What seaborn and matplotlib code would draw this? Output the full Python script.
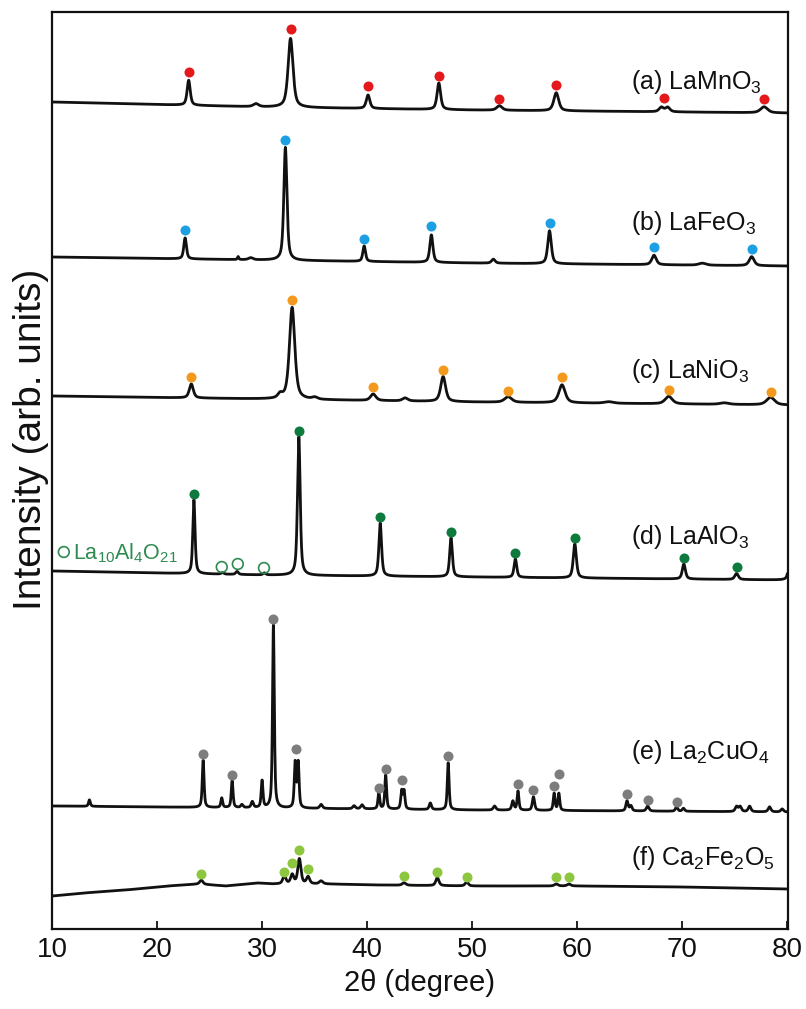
import numpy as np
import pandas as pd
import matplotlib
matplotlib.use("Agg")
import matplotlib.pyplot as plt
import seaborn as sns

# ---------------- data (2theta in degrees, intensity in arb. units) ----------------
two_theta_range = [10.0, 80.0]

# (a) LaMnO3
a_base_x = [10, 30, 50, 80]
a_base_y = [827, 822, 819, 816]
a_pos = [22.99, 29.4, 32.69, 40.07, 46.81, 52.58, 57.99, 68.0, 68.6, 77.78]
a_height = [25, 3, 69, 13.5, 26.5, 4.5, 18, 4.5, 4.5, 6]
a_width = [0.35, 0.6, 0.55, 0.4, 0.4, 0.6, 0.55, 0.5, 0.5, 0.8]
a_dot_x = [22.99, 32.69, 40.07, 46.81, 52.58, 57.99, 68.28, 77.78]
a_dot_y = [857, 900, 843, 853, 830, 844, 831, 830]

# (b) LaFeO3
b_base_x = [10, 30, 50, 80]
b_base_y = [672, 669, 666, 663]
b_pos = [22.65, 27.7, 28.9, 32.2, 39.7, 46.1, 52.0, 57.35, 67.3, 71.9, 76.6]
b_height = [21, 3, 2, 113, 15.5, 27.5, 4, 33, 9.5, 2, 9]
b_width = [0.3, 0.15, 0.5, 0.35, 0.3, 0.35, 0.4, 0.4, 0.5, 0.8, 0.55]
b_dot_x = [22.65, 32.2, 39.7, 46.1, 57.35, 67.3, 76.6]
b_dot_y = [699, 789, 690, 703, 706, 682, 680]

# (c) LaNiO3
c_base_x = [10, 30, 50, 80]
c_base_y = [533, 530, 527, 524]
c_pos = [23.24, 31.7, 32.84, 35.0, 40.56, 43.6, 47.22, 53.41, 58.54, 63.0, 68.7, 74.0, 78.4]
c_height = [14, 4, 92, 2, 6.5, 3, 25, 5.5, 18, 1.5, 7.5, 1.5, 7.5]
c_width = [0.45, 0.5, 0.6, 0.6, 0.6, 0.6, 0.55, 0.8, 0.7, 1.0, 0.8, 1.0, 0.9]
c_dot_x = [23.24, 32.84, 40.56, 47.22, 53.41, 58.54, 68.7, 78.4]
c_dot_y = [552, 629, 542, 559, 538, 552, 539, 537]

# (d) LaAlO3 (+ La10Al4O21 impurity)
d_base_x = [10, 30, 50, 80]
d_base_y = [358, 354, 352, 349]
d_pos = [23.49, 26.2, 27.6, 30.2, 33.48, 41.23, 47.97, 54.1, 59.76, 70.14, 75.16, 80.25]
d_height = [74, 1.5, 3, 2, 139, 53, 39, 18.5, 34, 15, 6, 22]
d_width = [0.25, 0.3, 0.3, 0.3, 0.3, 0.3, 0.3, 0.3, 0.35, 0.35, 0.4, 0.35]
d_dot_x = [23.49, 33.48, 41.23, 47.97, 54.1, 59.76, 70.14, 75.16]
d_dot_y = [435, 498, 412, 397, 376, 391, 371, 362]
d_imp_x = [26.14, 27.67, 30.16]
d_imp_y = [362, 365, 361]

# (e) La2CuO4
e_base_x = [10, 30, 50, 80]
e_base_y = [123, 121, 119, 117]
e_pos = [13.54, 24.37, 26.14, 27.13, 28.06, 29.05, 29.98, 31.06, 33.13, 33.42, 35.6,
         38.74, 39.5, 41.1, 41.75, 43.27, 43.5, 46.0, 47.7, 52.12, 53.86, 54.35,
         55.82, 57.79, 58.24, 64.73, 65.1, 66.7, 69.45, 70.1, 75.16, 75.5, 76.4,
         78.3, 79.5]
e_height = [6.5, 47, 9.5, 27, 3, 6, 27, 183, 45, 45, 4,
            3, 4, 16.5, 34, 18, 18, 6.5, 47, 4, 9, 19,
            13.5, 17, 17, 10, 5, 5, 4.5, 3, 5, 5, 5.5,
            5, 3]
e_width = [0.2, 0.2, 0.2, 0.2, 0.25, 0.25, 0.2, 0.2, 0.2, 0.2, 0.3,
           0.3, 0.3, 0.2, 0.2, 0.2, 0.2, 0.25, 0.2, 0.3, 0.25, 0.2,
           0.25, 0.2, 0.2, 0.25, 0.25, 0.3, 0.25, 0.25, 0.3, 0.3, 0.3,
           0.3, 0.3]
e_dot_x = [24.37, 27.13, 31.06, 33.2, 41.1, 41.8, 43.3, 47.7, 54.35, 55.82, 57.75,
           58.3, 64.73, 66.7, 69.45]
e_dot_y = [175, 154, 310, 180, 141, 160, 149, 173, 145, 139, 143, 155, 135, 129, 127]

# (f) Ca2Fe2O5
f_base_x = [10, 13, 17, 21, 24, 26.5, 29.5, 31, 36, 41, 50, 60, 70, 80]
f_base_y = [33, 36, 39, 43, 45, 43, 46, 45, 45, 44, 43, 43, 42, 40]
f_pos = [24.2, 32.1, 32.85, 33.53, 34.36, 35.6, 43.5, 46.67, 49.47, 57.99, 59.2]
f_height = [4, 8, 9, 25, 7, 3, 2.5, 8, 4, 2, 2]
f_width = [0.35, 0.35, 0.35, 0.35, 0.35, 0.4, 0.4, 0.35, 0.35, 0.4, 0.4]
f_dot_x = [24.2, 32.1, 32.85, 33.53, 34.36, 43.5, 46.67, 49.47, 57.99, 59.2]
f_dot_y = [55, 57, 66, 79, 60, 53, 57, 52, 52, 52]

sample_labels = ["(a) LaMnO$_3$", "(b) LaFeO$_3$", "(c) LaNiO$_3$",
                 "(d) LaAlO$_3$", "(e) La$_2$CuO$_4$", "(f) Ca$_2$Fe$_2$O$_5$"]
label_y = [840, 699, 551, 385, 170, 64]
label_x = 65.1
impurity_label = "La$_{10}$Al$_4$O$_{21}$"
impurity_key = (11.1, 377)

dot_colors = ["#e3191c", "#1ca0e3", "#f39a1e", "#0e7a3e", "#7d7d7d", "#8dc63f"]
impurity_color = "#2e8b50"

# ---------------- figure ----------------
sns.set_theme(style="ticks")
plt.rcParams["font.family"] = ["Liberation Sans", "DejaVu Sans"]
plt.rcParams["mathtext.default"] = "regular"

fig = plt.figure(figsize=(8.06, 10.09), dpi=100)
ax = fig.add_axes([0.0645, 0.0793, 0.9128, 0.9088])

grid = np.linspace(two_theta_range[0], two_theta_range[1], 4000)


def pattern(base_x, base_y, pos, height, width, eta=0.6):
    y = np.interp(grid, base_x, base_y).astype(float)
    for p, h, w in zip(pos, height, width):
        u = (grid - p) / (w / 2.0)
        y += h * (eta / (1.0 + u ** 2) + (1 - eta) * np.exp(-np.log(2) * u ** 2))
    return y


samples = [
    (a_base_x, a_base_y, a_pos, a_height, a_width, a_dot_x, a_dot_y),
    (b_base_x, b_base_y, b_pos, b_height, b_width, b_dot_x, b_dot_y),
    (c_base_x, c_base_y, c_pos, c_height, c_width, c_dot_x, c_dot_y),
    (d_base_x, d_base_y, d_pos, d_height, d_width, d_dot_x, d_dot_y),
    (e_base_x, e_base_y, e_pos, e_height, e_width, e_dot_x, e_dot_y),
    (f_base_x, f_base_y, f_pos, f_height, f_width, f_dot_x, f_dot_y),
]

for i, (bx, by, pos, hh, ww, dx, dy) in enumerate(samples):
    df = pd.DataFrame({"two_theta": grid, "intensity": pattern(bx, by, pos, hh, ww)})
    sns.lineplot(data=df, x="two_theta", y="intensity", ax=ax, color="#111111",
                 lw=2.0, estimator=None, sort=False)
    dots = pd.DataFrame({"two_theta": dx, "intensity": dy})
    sns.scatterplot(data=dots, x="two_theta", y="intensity", ax=ax,
                    color=dot_colors[i], s=52, linewidth=0, zorder=5)
    ax.text(label_x, label_y[i], sample_labels[i], fontsize=18, color="#111111",
            ha="left", va="baseline")

# impurity phase (open circles)
imp = pd.DataFrame({"two_theta": d_imp_x, "intensity": d_imp_y})
sns.scatterplot(data=imp, x="two_theta", y="intensity", ax=ax, s=60,
                facecolor="none", edgecolor=impurity_color, linewidth=1.2, zorder=5)
ax.scatter([impurity_key[0]], [impurity_key[1]], s=60, facecolor="none",
           edgecolor=impurity_color, linewidth=1.2, zorder=5)
ax.text(impurity_key[0] + 0.85, impurity_key[1] - 7, impurity_label, fontsize=15.5,
        color=impurity_color, ha="left", va="baseline")

# ---------------- axes styling ----------------
ax.set_xlim(9.975, 80.03)
ax.set_ylim(0, 917)
ax.set_xticks([10, 20, 30, 40, 50, 60, 70, 80])
ax.set_yticks([])
ax.tick_params(axis="x", direction="in", length=6, width=1.3, labelsize=20,
               pad=6, colors="#111111")
for sp in ax.spines.values():
    sp.set_linewidth(1.6)
    sp.set_color("#111111")
ax.set_xlabel("2θ (degree)", fontsize=21, labelpad=4, color="#111111")
ax.set_ylabel("Intensity (arb. units)", fontsize=28, labelpad=2, y=0.534,
              color="#111111")
ax.grid(False)

fig.savefig("out.png", dpi=100)
